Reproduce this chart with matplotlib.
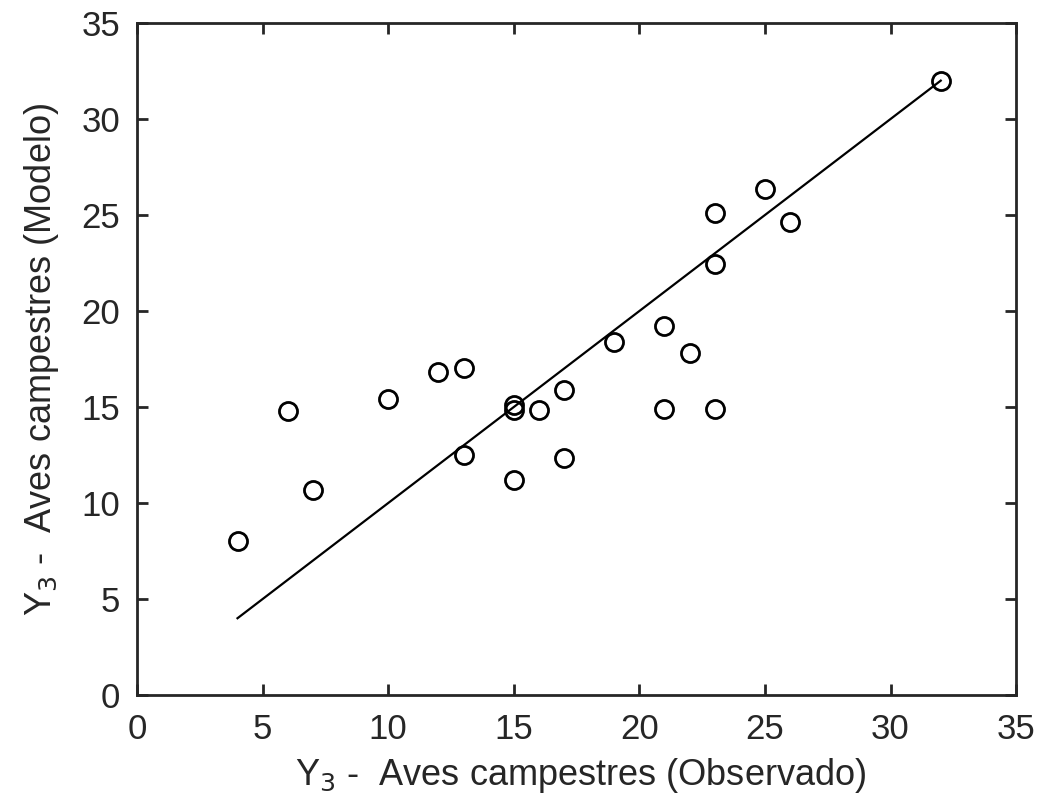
import matplotlib
matplotlib.use("Agg")
import matplotlib.pyplot as plt

observado = [4, 6, 7, 10, 12, 13, 13, 15, 15, 15, 16, 17, 17, 19, 21, 21, 22, 23, 23, 23, 25, 26, 32]
modelo = [8.0, 14.8, 10.7, 15.4, 16.85, 17.05, 12.5, 15.1, 14.85, 11.2, 14.85, 15.9, 12.35,
          18.4, 19.2, 14.9, 17.8, 25.1, 22.45, 14.9, 26.35, 24.65, 32.0]
linea_x = [4, 32]
linea_y = [4, 32]

plt.rcParams['font.family'] = ['Liberation Sans', 'DejaVu Sans']

fig = plt.figure(figsize=(10.43, 8.11), dpi=100)
ax = fig.add_axes([0.1314, 0.143, 0.8428, 0.8286])

ax.plot(linea_x, linea_y, color='black', lw=1.6)
ax.plot(observado, modelo, 'o', mfc='none', mec='black', mew=2, ms=13)

ax.set_xlim(0, 35)
ax.set_ylim(0, 35)
ax.set_xticks(range(0, 36, 5))
ax.set_yticks(range(0, 36, 5))
ax.tick_params(direction='in', length=8, width=2, labelsize=25, colors='#262626',
               top=True, right=True)
ax.tick_params(axis='x', pad=13)
ax.tick_params(axis='y', pad=12)
for s in ax.spines.values():
    s.set_linewidth(2)
    s.set_color('#262626')

ax.set_xlabel(r'Y$_3$ -  Aves campestres (Observado)', fontsize=26, color='#262626')
ax.set_ylabel(r'Y$_3$ -  Aves campestres (Modelo)', fontsize=26, color='#262626')
ax.xaxis.set_label_coords(0.505, -0.09)
ax.yaxis.set_label_coords(-0.086, 0.5)

fig.savefig('out.png', dpi=100)
